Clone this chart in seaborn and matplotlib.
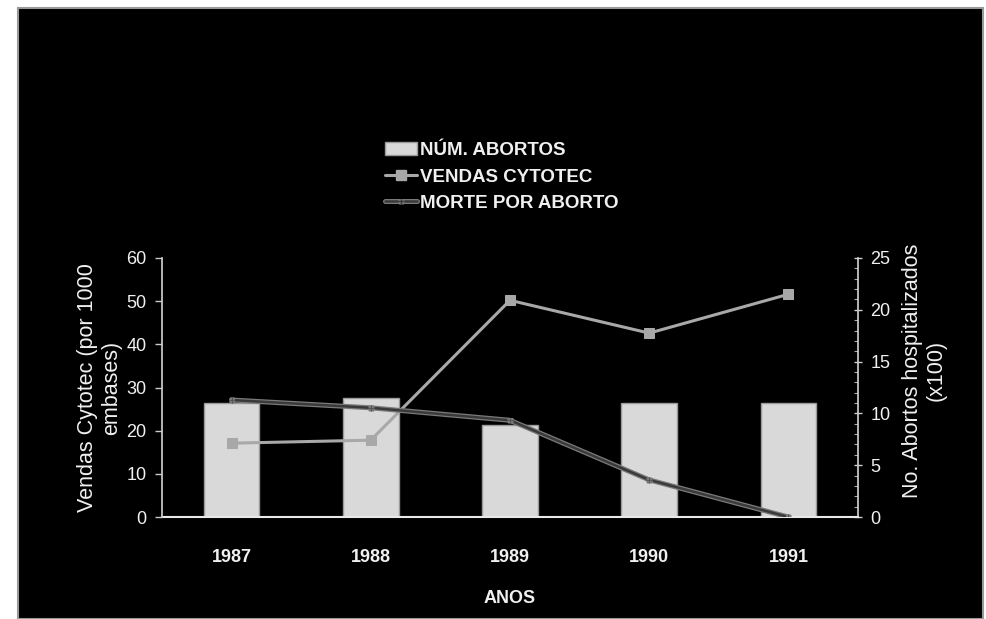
import pandas as pd
import numpy as np
import matplotlib
matplotlib.use('Agg')
import matplotlib.pyplot as plt
import matplotlib.patheffects as pe
from matplotlib.patches import Rectangle
from matplotlib.lines import Line2D
import seaborn as sns

# dados
anos = ['1987', '1988', '1989', '1990', '1991']
num_abortos = [11.0, 11.5, 8.9, 11.0, 11.0]        # eixo direito (x100)
vendas_cytotec = [17.1, 17.8, 50.2, 42.6, 51.6]    # eixo esquerdo
morte_aborto = [27.1, 25.3, 22.4, 8.6, 0.0]        # eixo esquerdo

df = pd.DataFrame({'ano': anos, 'pos': np.arange(len(anos)),
                   'abortos': num_abortos, 'vendas': vendas_cytotec,
                   'mortes': morte_aborto})

sns.set_theme(style='white')
plt.rcParams['font.family'] = ['Liberation Sans', 'DejaVu Sans']
fg = '#f0f0f0'

fig = plt.figure(figsize=(9.86, 6.19), dpi=100, facecolor='white')
# fundo preto da imagem
fig.patches.append(Rectangle((18/986, 0), (983-18)/986, (619-8)/619, transform=fig.transFigure,
                             facecolor='black', edgecolor='#999999', linewidth=1.5, zorder=-10))

ax_bar = fig.add_axes([162/986, 1-517/619, 696/986, (517-258)/619])
ax_bar.set_facecolor('none')

#Barras no eixo direito
sns.barplot(data=df, x='pos', y='abortos', ax=ax_bar, color='#d9d9d9', width=0.4,
            edgecolor='#9a9a9a', linewidth=1, saturation=1, native_scale=True)
ax_bar.set_ylim(0, 25)
ax_bar.set_xlim(-0.5, len(anos)-0.5)

# linhas no eixo esquerdo
ax_line = ax_bar.twinx()
ax_line.set_facecolor('none')
sns.lineplot(data=df, x='pos', y='vendas', ax=ax_line, color='#a8a8a8', linewidth=2.2,
             marker='s', markersize=6.5, markeredgecolor='#a8a8a8')
sns.lineplot(data=df, x='pos', y='mortes', ax=ax_line, color='#3a3a3a', linewidth=1.8,
             marker='+', markersize=4, markeredgecolor='#555555',
             path_effects=[pe.Stroke(linewidth=3.6, foreground='#7a7a7a'), pe.Normal()])
ax_line.set_ylim(0, 60)

# eixo direito (barras)
ax_bar.yaxis.tick_right()
ax_bar.yaxis.set_label_position('right')
ax_bar.set_yticks(range(0, 26, 5))
ax_bar.set_yticks(range(0, 26, 1), minor=True)
ax_bar.set_ylabel('No. Abortos hospitalizados\n(x100)', color=fg, fontsize=15.5, labelpad=8,
                  rotation=90, y=0.565)

# eixo esquerdo (linhas)
ax_line.yaxis.tick_left()
ax_line.yaxis.set_label_position('left')
ax_line.set_yticks(range(0, 61, 10))
ax_line.set_ylabel('Vendas Cytotec (por 1000\nembases)', color=fg, fontsize=15.5, labelpad=3)

# eixo x
ax_bar.set_xticks(df['pos'])
ax_bar.set_xticklabels(anos, fontsize=13, fontweight='bold', color=fg)
ax_bar.set_xticks(np.arange(-0.5, len(anos), 1), minor=True)
ax_bar.tick_params(axis='x', which='major', length=0, pad=23)
ax_bar.tick_params(axis='x', which='minor', length=5, width=1, color='#cccccc', direction='out')
ax_bar.set_xlabel('ANOS', fontsize=13, fontweight='bold', color=fg, labelpad=17)

ax_bar.tick_params(axis='y', which='major', right=True, left=False, labelright=True,
                   labelleft=False, length=6, width=1, color='#cccccc', labelcolor=fg,
                   labelsize=13, direction='inout', pad=6)
ax_bar.tick_params(axis='y', which='minor', right=True, left=False, length=3, width=0.8,
                   color='#aaaaaa', direction='in')
ax_line.tick_params(axis='y', which='major', left=True, right=False, labelleft=True,
                    labelright=False, length=5, width=1, color='#cccccc', labelcolor=fg,
                    labelsize=13, direction='out', pad=6)

for a in (ax_bar, ax_line):
    for s in a.spines.values():
        s.set_visible(False)
ax_bar.spines['right'].set_visible(True)
ax_bar.spines['right'].set_color('#cccccc')
ax_bar.spines['bottom'].set_visible(True)
ax_bar.spines['bottom'].set_color('#e8e8e8')
ax_bar.spines['bottom'].set_linewidth(1.5)
ax_line.spines['left'].set_visible(True)
ax_line.spines['left'].set_color('#cccccc')

# legenda
handles = [Rectangle((0, 0), 1, 1, facecolor='#d9d9d9', edgecolor='#9a9a9a'),
           Line2D([], [], color='#a8a8a8', linewidth=2.2, marker='s', markersize=6.5),
           Line2D([], [], color='#3a3a3a', linewidth=1.8, marker='+', markersize=4,
                  path_effects=[pe.Stroke(linewidth=3.6, foreground='#7a7a7a'), pe.Normal()])]
labels = ['NÚM. ABORTOS', 'VENDAS CYTOTEC', 'MORTE POR ABORTO']
leg = fig.legend(handles, labels, loc='upper left', bbox_to_anchor=(368/986, 1-125/619),
                 frameon=False, handlelength=1.7, handletextpad=0.15, labelspacing=0.5,
                 prop={'size': 13.5, 'weight': 'bold'})
for t in leg.get_texts():
    t.set_color(fg)

fig.savefig('out.png', dpi=100, facecolor=fig.get_facecolor())
